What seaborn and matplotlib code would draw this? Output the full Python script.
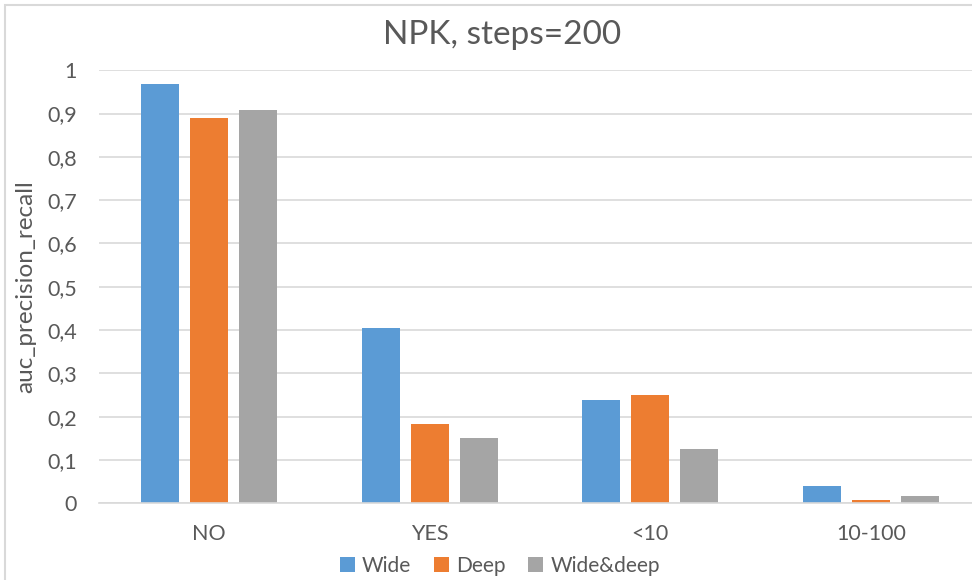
import matplotlib
matplotlib.use("Agg")
import matplotlib.pyplot as plt
from matplotlib.patches import Rectangle, Patch
import pandas as pd
import seaborn as sns

categories = ["NO", "YES", "<10", "10-100"]
series = ["Wide", "Deep", "Wide&deep"]
wide = [0.969, 0.406, 0.239, 0.040]
deep = [0.889, 0.183, 0.250, 0.008]
wide_deep = [0.908, 0.151, 0.126, 0.018]
y_ticks = [0, 0.1, 0.2, 0.3, 0.4, 0.5, 0.6, 0.7, 0.8, 0.9, 1.0]
y_tick_labels = ["0", "0,1", "0,2", "0,3", "0,4", "0,5", "0,6", "0,7", "0,8", "0,9", "1"]
colors = ["#5B9BD5", "#ED7D31", "#A5A5A5"]

df = pd.DataFrame({
    "category": categories * 3,
    "series": [s for s in series for _ in categories],
    "value": wide + deep + wide_deep,
})

sns.set_theme(style="white")
plt.rcParams["font.family"] = ["Lato", "DejaVu Sans"]
text_color = "#595959"
grid_color = "#D9D9D9"

fig = plt.figure(figsize=(9.72, 5.80), dpi=100)
fig.patch.set_facecolor("white")
ax = fig.add_axes([99 / 972, 0.132, 882 / 972, 0.747])

sns.barplot(data=df, x="category", y="value", hue="series", order=categories,
            hue_order=series, palette=colors, width=0.668, gap=0.224,
            edgecolor="none", saturation=1, legend=False, ax=ax)

ax.set_xlim(-0.5, 3.5)
ax.set_ylim(0, 1)
ax.set_yticks(y_ticks)
ax.set_yticklabels(y_tick_labels)
ax.yaxis.grid(True, color=grid_color, linewidth=1.2)
ax.set_axisbelow(True)
for side in ["top", "right", "left"]:
    ax.spines[side].set_visible(False)
ax.spines["bottom"].set_color(grid_color)
ax.spines["bottom"].set_linewidth(1.2)
ax.tick_params(axis="both", length=0, labelsize=15.5, colors=text_color)
ax.tick_params(axis="y", pad=16)
ax.tick_params(axis="x", pad=15)
ax.set_xlabel("")
ax.set_ylabel("auc_precision_recall", fontsize=17.5, color=text_color, labelpad=8)

fig.text(502 / 972, 1 - 35 / 580, "NPK, steps=200", ha="center", va="center",
         fontsize=24, color=text_color)

handles = [Patch(facecolor=c, edgecolor="none") for c in colors]
fig.legend(handles, series, loc="center", bbox_to_anchor=(500 / 972, 1 - 566 / 580),
           ncol=3, frameon=False, fontsize=15, labelcolor=text_color,
           handlelength=0.7, handleheight=0.7, handletextpad=0.35,
           columnspacing=1.1)

# chart frame
fig.patches.append(Rectangle((5 / 972, -0.1), 1.2, 1 - 5 / 580 + 0.1,
                             transform=fig.transFigure, fill=False,
                             edgecolor=grid_color, linewidth=1.5))

fig.savefig("out.png", dpi=100)
